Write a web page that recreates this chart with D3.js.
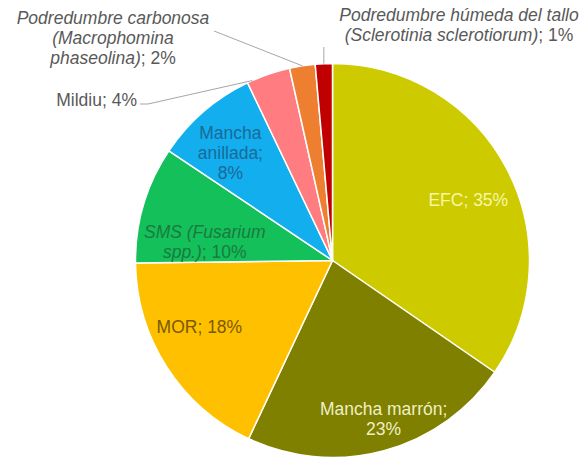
<!DOCTYPE html>
<html>
<head>
<meta charset="utf-8">
<script src="https://cdn.jsdelivr.net/npm/d3@7"></script>
<style>
  body { margin: 0; background: #fff; }
  svg { display: block; font-family: "Liberation Sans", Arial, sans-serif; }
</style>
</head>
<body>
<svg width="583" height="461"></svg>
<script>
// data
var categories = ['EFC', 'Mancha marrón', 'MOR', 'SMS (Fusarium spp.)', 'Mancha anillada',
  'Mildiu', 'Podredumbre carbonosa (Macrophomina phaseolina)',
  'Podredumbre húmeda del tallo (Sclerotinia sclerotiorum)'];
var values = [34.6, 22.4, 17.8, 9.6, 8.5, 3.6, 2.1, 1.4];
var pctLabels = ['35%', '23%', '18%', '10%', '8%', '4%', '2%', '1%'];
// label text: "|" breaks a line, "*" toggles italic
var labelText = [
  'EFC; ' + pctLabels[0],
  'Mancha marrón;|' + pctLabels[1],
  'MOR; ' + pctLabels[2],
  '*SMS (Fusarium|spp.)*; ' + pctLabels[3],
  'Mancha|anillada;|' + pctLabels[4],
  'Mildiu; ' + pctLabels[5],
  '*Podredumbre carbonosa|(Macrophomina|phaseolina)*; ' + pctLabels[6],
  '*Podredumbre húmeda del tallo|(Sclerotinia sclerotiorum)*; ' + pctLabels[7]
];

var sliceColors = ['#cdcb00', '#7f7f00', '#ffc000', '#14c05a', '#12aeee', '#ff7c80', '#ef7f30', '#c00000'];
var labelColors = ['#f6f6a8', '#efefc4', '#7a5a00', '#1a7a40', '#1a6a98', '#595959', '#595959', '#595959'];

var svg = d3.select('svg');
var cx = 332.5, cy = 260.5, R = 197;
var fontSize = 17.5, lineH = 20;

var pie = d3.pie().sort(null).value(function(d) { return d; });
var arcs = pie(values);
var arc = d3.arc().innerRadius(0).outerRadius(R);
var labelArc = d3.arc().innerRadius(150).outerRadius(150);

var g = svg.append('g').attr('transform', 'translate(' + cx + ',' + cy + ')');

g.selectAll('path.slice').data(arcs).enter().append('path')
  .attr('class', 'slice')
  .attr('d', arc)
  .attr('fill', function(d, i) { return sliceColors[i]; })
  .attr('stroke', '#fff')
  .attr('stroke-width', 1.5)
  .attr('stroke-linejoin', 'round');

function writeLines(text, str, x, firstDy) {
  var ital = false;
  str.split('|').forEach(function(ln, i) {
    var first = true;
    ln.split('*').forEach(function(p, j) {
      if (j > 0) ital = !ital;
      if (!p) return;
      var t = text.append('tspan').text(p).attr('font-style', ital ? 'italic' : 'normal');
      if (first) {
        t.attr('x', x).attr('dy', i == 0 ? firstDy : lineH);
        first = false;
      }
    });
  });
}

// inside labels: centroid plus a small nudge
var nudges = [[3, 9], [12, 14], [-7, -15], [16, 24], [-4, 6]];
nudges.forEach(function(n, i) {
  var c = labelArc.centroid(arcs[i]);
  var x = c[0] + n[0], y = c[1] + n[1];
  var nLines = labelText[i].split('|').length;
  var t = g.append('text')
    .attr('text-anchor', 'middle')
    .attr('font-size', fontSize)
    .attr('fill', labelColors[i])
    .attr('y', y - (nLines - 1) * lineH / 2 + fontSize * 0.35);
  writeLines(t, labelText[i], x, 0);
});

// point on the rim of a slice, f = fraction along its angle
function rimPoint(d, f) {
  var a = d.startAngle + (d.endAngle - d.startAngle) * f;
  return [cx + R * Math.sin(a), cy - R * Math.cos(a)];
}

// outside labels with leader lines (page coordinates)
var outside = [
  { i: 5, x: 137, y: 106, anchor: 'end', lead: [140, 104], bend: 8, at: 0.12 },
  { i: 6, x: 113, y: 24, anchor: 'middle', lead: [214, 31], bend: 0, at: 0.5 },
  { i: 7, x: 459, y: 21, anchor: 'middle', lead: null, bend: 0, at: 0.5 }
];

outside.forEach(function(o) {
  var e = rimPoint(arcs[o.i], o.at);
  var pts;
  if (o.lead) {
    pts = [o.lead];
    if (o.bend) pts.push([o.lead[0] + o.bend, o.lead[1]]);
    pts.push(e);
  } else {
    pts = [[e[0], 47], e];
  }
  svg.append('path')
    .attr('d', d3.line()(pts))
    .attr('fill', 'none')
    .attr('stroke', '#a6a6a6')
    .attr('stroke-width', 1);

  var t = svg.append('text')
    .attr('text-anchor', o.anchor)
    .attr('font-size', fontSize)
    .attr('fill', labelColors[o.i])
    .attr('y', o.y);
  writeLines(t, labelText[o.i], o.x, 0);
});
</script>
</body>
</html>
